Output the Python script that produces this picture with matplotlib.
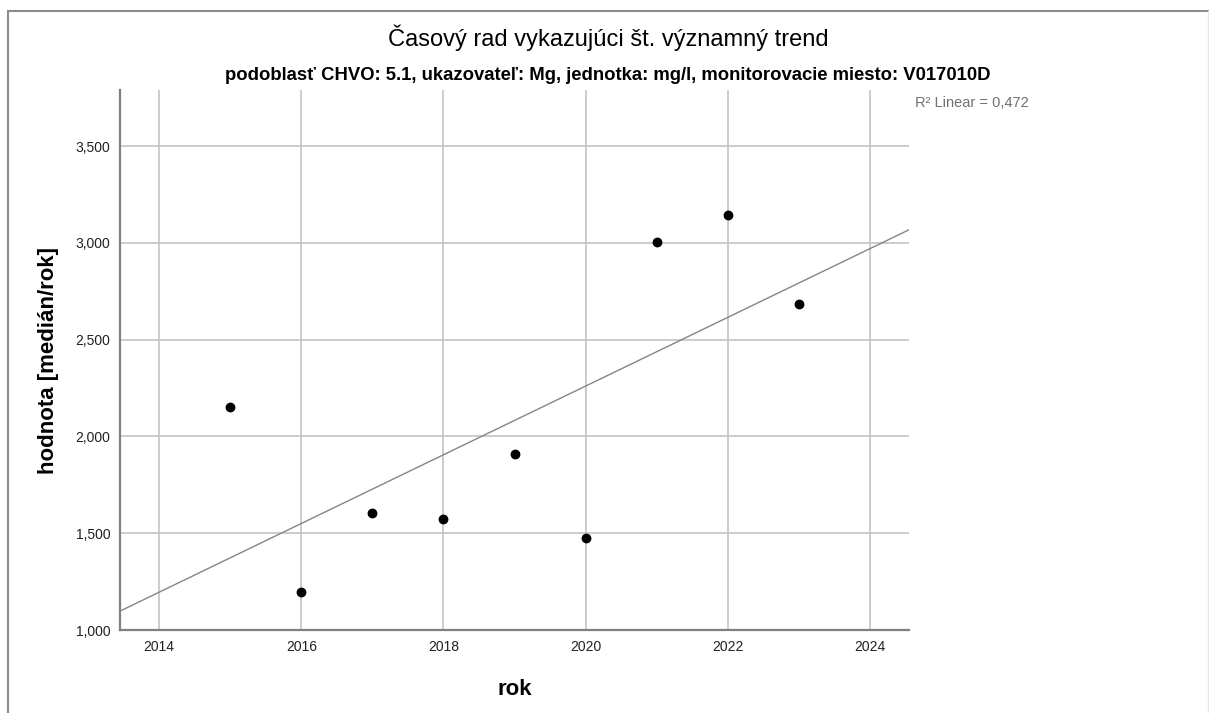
import numpy as np
import matplotlib
matplotlib.use("Agg")
import matplotlib.pyplot as plt
from matplotlib.lines import Line2D

plt.rcParams['font.family'] = ['Liberation Sans', 'DejaVu Sans']

# data
years = [2015, 2016, 2017, 2018, 2019, 2020, 2021, 2022, 2023]
values = [2.153, 1.198, 1.606, 1.575, 1.908, 1.475, 3.003, 3.142, 2.684]
x_ticks = [2014, 2016, 2018, 2020, 2022, 2024]
y_ticks = [1.0, 1.5, 2.0, 2.5, 3.0, 3.5]

title = "Časový rad vykazujúci št. významný trend"
subtitle = "podoblasť CHVO: 5.1, ukazovateľ: Mg, jednotka: mg/l, monitorovacie miesto: V017010D"

W, H = 1209, 713
fig = plt.figure(figsize=(W / 100, H / 100), dpi=100)
ax = fig.add_axes([120 / W, 1 - 630 / H, (909 - 120) / W, (630 - 90) / H])

xlim = (2013.45, 2024.55)
ylim = (1.0, 3.79)

# linear fit (R^2 Linear)
slope, icpt = np.polyfit(years, values, 1)
pred = np.polyval([slope, icpt], years)
r2 = 1 - np.sum((np.array(values) - pred) ** 2) / np.sum((np.array(values) - np.mean(values)) ** 2)

ax.set_xlim(*xlim)
ax.set_ylim(*ylim)
for xt in x_ticks:
    ax.axvline(xt, color="#c4c4c4", lw=1.2, zorder=1)
for yt in y_ticks[1:]:
    ax.axhline(yt, color="#c4c4c4", lw=1.2, zorder=1)

fx = np.array(xlim)
ax.plot(fx, slope * fx + icpt, color="#858585", lw=1.0, zorder=2)
ax.scatter(years, values, s=50, color="black", zorder=3, linewidths=0)

ax.set_xticks(x_ticks)
ax.set_xticklabels([str(t) for t in x_ticks])
ax.set_yticks(y_ticks)
ax.set_yticklabels([f"{t:.3f}".replace(".", ",") for t in y_ticks])
ax.tick_params(length=0, labelsize=10, colors="#222222", pad=7)

for s in ["top", "right"]:
    ax.spines[s].set_visible(False)
for s in ["left", "bottom"]:
    ax.spines[s].set_color("#808080")
    ax.spines[s].set_linewidth(1.6)

ax.set_xlabel("rok", fontsize=16, fontweight="bold", labelpad=18)
ax.set_ylabel("hodnota [medián/rok]", fontsize=16, fontweight="bold", labelpad=12)

fig.text(608 / W, 1 - 38 / H, title, ha="center", va="center", fontsize=17)
fig.text(608 / W, 1 - 76 / H, subtitle, ha="center", va="center", fontsize=13.3, fontweight="bold")
fig.text(915 / W, 1 - 103 / H, "R² Linear = " + f"{r2:.3f}".replace(".", ","),
         ha="left", va="center", fontsize=10.5, color="#707070")

# outer frame
fig.add_artist(Line2D([8 / W, 1], [1 - 11 / H, 1 - 11 / H], color="#8c8c8c", lw=1.5))
fig.add_artist(Line2D([8 / W, 8 / W], [0, 1 - 11 / H], color="#8c8c8c", lw=1.5))
fig.add_artist(Line2D([1208 / W, 1208 / W], [0, 1 - 11 / H], color="#e6e6e6", lw=1.0))

fig.savefig("out.png", dpi=100)
